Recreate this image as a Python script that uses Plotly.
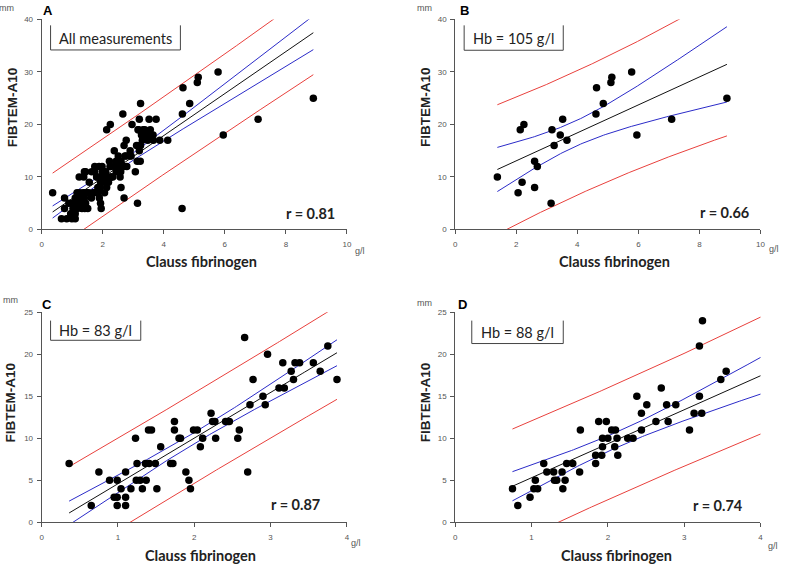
import numpy as np
import plotly.graph_objects as go

W, H = 786, 568

# ---------------- data ----------------
# Panel B: Hb = 105 g/l
b_x = [1.38, 2.06, 2.13, 2.19, 2.25, 2.60, 2.60, 2.69, 3.14, 3.17, 3.24, 3.44,
       3.52, 3.66, 4.61, 4.63, 4.85, 5.10, 5.13, 5.78, 5.95, 7.09, 8.90]
b_y = [10, 7, 19, 9, 20, 13, 8, 12, 5, 19, 16, 18,
       21, 17, 22, 27, 24, 28, 29, 30, 18, 21, 25]

# Panel C: Hb = 83 g/l
c_x = [0.36, 0.65, 0.75, 0.89, 0.95, 0.99, 0.99, 0.99, 1.04, 1.10, 1.10, 1.10,
       1.17, 1.23, 1.24, 1.25, 1.29, 1.32, 1.36, 1.37, 1.40, 1.41, 1.44, 1.49,
       1.51, 1.56, 1.69, 1.72, 1.74, 1.74, 1.80, 1.82, 1.89, 1.93, 1.95, 1.99,
       2.04, 2.08, 2.11, 2.22, 2.24, 2.27, 2.28, 2.41, 2.44, 2.46, 2.57, 2.59,
       2.66, 2.70, 2.73, 2.77, 2.90, 2.93, 2.96, 3.11, 3.16, 3.18, 3.27, 3.30,
       3.32, 3.38, 3.56, 3.65, 3.75, 3.87]
c_y = [7, 2, 6, 5, 3, 3, 2, 5, 4, 6, 3, 2,
       4, 10, 5, 7, 5, 4, 7, 5, 11, 7, 11, 7,
       4, 9, 7, 7, 11, 12, 10, 10, 6, 5, 4, 11,
       11, 9, 10, 13, 12, 12, 10, 12, 12, 12, 10, 11,
       22, 6, 14, 17, 15, 14, 20, 16, 19, 16, 18, 17,
       19, 19, 19, 18, 21, 17]

# Panel D: Hb = 88 g/l (last two measurements lie beyond the 4 g/l axis end
# and are only visible in panel A)
d_x = [0.75, 0.82, 0.98, 1.03, 1.05, 1.08, 1.16, 1.20, 1.29, 1.30, 1.33, 1.40,
       1.41, 1.44, 1.46, 1.54, 1.63, 1.64, 1.84, 1.84, 1.88, 1.92, 1.93, 1.93,
       1.98, 2.00, 2.05, 2.09, 2.10, 2.12, 2.13, 2.26, 2.33, 2.38, 2.44, 2.44,
       2.51, 2.63, 2.70, 2.77, 2.79, 2.89, 3.07, 3.13, 3.20, 3.20, 3.24, 3.23,
       3.48, 3.55, 4.13, 4.60]
d_y = [4, 2, 3, 4, 5, 4, 7, 6, 6, 5, 5, 6,
       4, 5, 7, 7, 6, 11, 7, 8, 12, 8, 9, 10,
       12, 10, 11, 9, 11, 10, 8, 10, 10, 15, 13, 11,
       14, 12, 16, 14, 12, 14, 11, 13, 21, 15, 24, 13,
       17, 18, 17, 4]

# Panel A: all measurements
a_x = b_x + c_x + d_x
a_y = b_y + c_y + d_y

panel_letters = ["A", "B", "C", "D"]
panel_labels = ["All measurements", "Hb = 105 g/l", "Hb = 83 g/l", "Hb = 88 g/l"]
r_labels = ["r = 0.81", "r = 0.66", "r = 0.87", "r = 0.74"]
x_ranges = [[0, 10], [0, 10], [0, 4], [0, 4]]
y_ranges = [[0, 40], [0, 40], [0, 25], [0, 25]]
x_ticks = [[0, 2, 4, 6, 8, 10], [0, 2, 4, 6, 8, 10], [0, 1, 2, 3, 4], [0, 1, 2, 3, 4]]
y_ticks = [[0, 10, 20, 30, 40], [0, 10, 20, 30, 40],
           [0, 5, 10, 15, 20, 25], [0, 5, 10, 15, 20, 25]]

datasets = [(a_x, a_y), (b_x, b_y), (c_x, c_y), (d_x, d_y)]

# ---------------- layout geometry (pixels) ----------------
# plot area per panel: left, right, top, bottom
boxes = [(40, 348, 15.7, 229), (457.3, 765.3, 15.7, 229),
         (40, 348, 313.3, 526.7), (457.3, 765.3, 313.3, 526.7)]


def px(x, y):
    return x / W, 1 - y / H


def tq(df):
    z = 1.959964
    return z + (z**3 + z) / (4 * df) + (5 * z**5 + 16 * z**3 + 3 * z) / (96 * df**2)


def fit(x, y):
    """Least-squares line with 95% confidence and prediction bands."""
    x = np.asarray(x, float)
    y = np.asarray(y, float)
    n = len(x)
    b, a = np.polyfit(x, y, 1)
    res = y - (a + b * x)
    s = np.sqrt(np.sum(res**2) / (n - 2))
    xbar = x.mean()
    sxx = np.sum((x - xbar) ** 2)
    xs = np.linspace(x.min(), x.max(), 150)
    yh = a + b * xs
    t = tq(n - 2)
    ci = t * s * np.sqrt(1 / n + (xs - xbar) ** 2 / sxx)
    pi = t * s * np.sqrt(1 + 1 / n + (xs - xbar) ** 2 / sxx)
    return xs, yh, ci, pi


fig = go.Figure()
annotations = []
shapes = []
CAL = "Lato, 'Open Sans', sans-serif"
ARI = "'Liberation Sans', Arial, sans-serif"
AXC = "#555555"

for i in range(4):
    ax = "" if i == 0 else str(i + 1)
    xa, ya = "x" + ax, "y" + ax
    l, r, t, btm = boxes[i]
    x0p, y1p = px(l, t)
    x1p, y0p = px(r, btm)
    fig.layout["xaxis" + ax] = dict(
        domain=[x0p, x1p], range=x_ranges[i], anchor=ya, tickvals=x_ticks[i],
        showline=True, linecolor=AXC, linewidth=1, ticks="outside", ticklen=4,
        tickcolor=AXC, showgrid=False, zeroline=False,
        tickfont=dict(family=ARI, size=8, color=AXC), ticklabelstandoff=3)
    fig.layout["yaxis" + ax] = dict(
        domain=[y0p, y1p], range=y_ranges[i], anchor=xa, tickvals=y_ticks[i],
        showline=True, linecolor=AXC, linewidth=1, ticks="outside", ticklen=4,
        tickcolor=AXC, showgrid=False, zeroline=False,
        tickfont=dict(family=ARI, size=8, color=AXC), ticklabelstandoff=2)

    xs, yh, ci, pi = fit(*datasets[i])
    for yy, col in [(yh + pi, "#e8403c"), (yh - pi, "#e8403c"),
                    (yh + ci, "#2b2bc8"), (yh - ci, "#2b2bc8"), (yh, "#111111")]:
        fig.add_trace(go.Scatter(x=xs, y=yy, mode="lines", xaxis=xa, yaxis=ya,
                                 line=dict(color=col, width=1), hoverinfo="skip"))
    fig.add_trace(go.Scatter(x=datasets[i][0], y=datasets[i][1], mode="markers",
                             xaxis=xa, yaxis=ya, cliponaxis=True,
                             marker=dict(color="black", size=7.5)))

# text positions (pixels, centres unless noted)
letter_pos = [(46, 7), (466.5, 7), (45, 305), (464.5, 305)]
mm_pos = [(5, 4), (426, 4), (9, 301), (426, 304)]
gl_pos = [(361, 251), (779, 249), (357, 548), (778, 551)]
xt_pos = [(201, 262), (618, 262), (200, 560), (620, 560)]
yt_pos = [(10, 105), (427.5, 105), (9, 405), (427.5, 405)]
r_pos = [(338, 212.7), (756, 212), (323, 509), (750, 510)]  # right edge
lab_box = [(49, 180, 21.7, 46.7), (466.3, 566.3, 21.7, 47),
           (49, 140, 321.7, 341.7), (474, 566.3, 321.7, 345)]


def note(pos, text, font, xanchor="center", **kw):
    x, y = px(*pos)
    annotations.append(dict(x=x, y=y, xref="paper", yref="paper", text=text,
                            xanchor=xanchor, yanchor="middle", showarrow=False,
                            font=font, **kw))


for i in range(4):
    note(letter_pos[i], "<b>%s</b>" % panel_letters[i], dict(family=ARI, size=13, color="black"))
    note(mm_pos[i], "mm", dict(family=ARI, size=9, color=AXC))
    note(gl_pos[i], "g/l", dict(family=ARI, size=9, color=AXC))
    note(xt_pos[i], "<b>Clauss fibrinogen</b>", dict(family=CAL, size=14.5, color="#222222"))
    note(yt_pos[i], "<b>FIBTEM-A10</b>", dict(family=ARI, size=13.5, color="#222222"),
         textangle=-90)
    note(r_pos[i], "<b>%s</b>" % r_labels[i], dict(family=CAL, size=14.5, color="#222222"),
         xanchor="right")
    bl, br, bt, bb = lab_box[i]
    for (xa_, ya_, xb_, yb_) in [(bl, bt, bl, bb), (bl, bb, br, bb), (br, bt, br, bb)]:
        p0 = px(xa_, ya_)
        p1 = px(xb_, yb_)
        shapes.append(dict(type="line", xref="paper", yref="paper", x0=p0[0], y0=p0[1],
                           x1=p1[0], y1=p1[1], line=dict(color="#444444", width=1)))
    note(((bl + br) / 2, (bt + bb) / 2 + 0.5), panel_labels[i],
         dict(family=CAL, size=14.5, color="#222222"))

fig.update_layout(width=W, height=H, margin=dict(l=0, r=0, t=0, b=0),
                  paper_bgcolor="white", plot_bgcolor="white", showlegend=False,
                  annotations=annotations, shapes=shapes)
fig.write_html("out.html", config={"displayModeBar": False},
               post_script="document.body.style.margin='0px';"
                           "document.body.style.overflow='hidden';")
